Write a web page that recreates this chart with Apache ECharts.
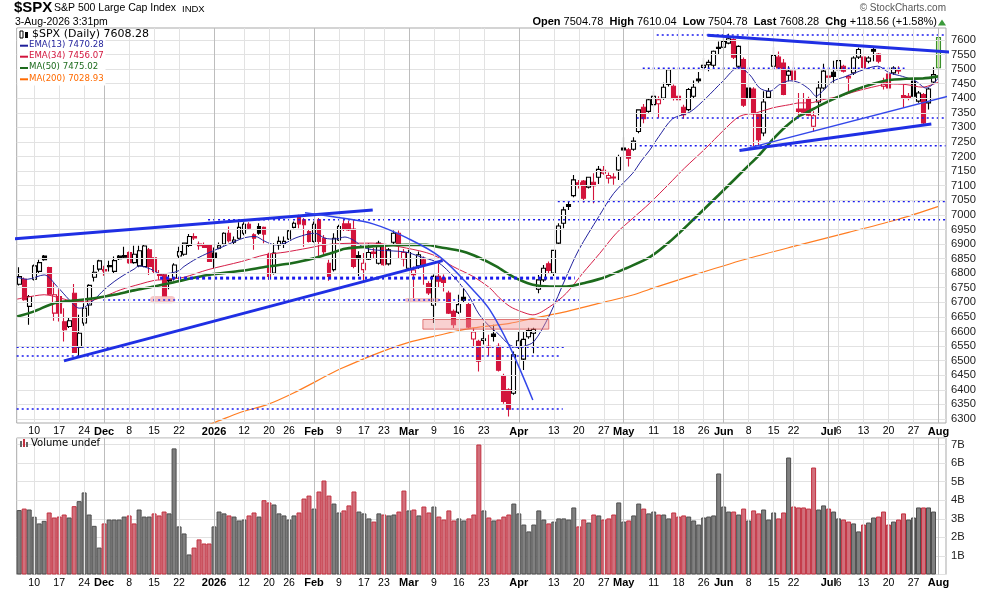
<!DOCTYPE html>
<html><head><meta charset="utf-8">
<script src="https://cdn.jsdelivr.net/npm/echarts@6/dist/echarts.min.js"></script>
<style>html,body{margin:0;padding:0;background:#fff}#c{width:990px;height:591px}</style>
</head><body><div id="c"></div><script>
// ---------------- DATA ----------------
const tradingDays = {
 '2025-11': [5,6,7,10,11,12,13,14,17,18,19,20,21,24,25,26,28],
 '2025-12': [1,2,3,4,5,8,9,10,11,12,15,16,17,18,19,22,23,24,26,29,30,31],
 '2026-01': [2,5,6,7,8,9,12,13,14,15,16,20,21,22,23,26,27,28,29,30],
 '2026-02': [2,3,4,5,6,9,10,11,12,13,17,18,19,20,23,24,25,26,27],
 '2026-03': [2,3,4,5,6,9,10,11,12,13,16,17,18,19,20,23,24,25,26,27,30,31],
 '2026-04': [1,2,6,7,8,9,10,13,14,15,16,17,20,21,22,23,24,27,28,29,30],
 '2026-05': [1,4,5,6,7,8,11,12,13,14,15,18,19,20,21,22,26,27,28,29],
 '2026-06': [1,2,3,4,5,8,9,10,11,12,15,16,17,18,22,23,24,25,26,29,30],
 '2026-07': [1,2,6,7,8,9,10,13,14,15,16,17,20,21,22,23,24,27,28,29,30,31],
 '2026-08': [3]
};
const openP = [
6762,6779,6686,6779,6806,6859,6819,6663,6720,6633,
6617,6731,6546,6629,6691,6786,6814,6812,6822,6806,
6859,6860,6871,6836,6825,6823,6880,6853,6796,6794,
6780,6783,6859,6865,6895,6926,6900,6897,6895,6869,
6886,6900,6937,6906,6920,6937,6968,6932,6960,6957,
6865,6800,6897,6900,6917,6957,6991,6983,6943,6909,
6983,6920,6834,6812,6914,6969,6969,6951,6860,6812,
6848,6872,6834,6892,6832,6906,6937,6849,6817,6795,
6825,6846,6764,6690,6789,6783,6732,6669,6666,6717,
6692,6574,6566,6569,6549,6591,6549,6448,6400,6388,
6548,6505,6582,6594,6745,6777,6832,6800,6903,6971,
7035,7066,7110,7116,7095,7112,7129,7143,7126,7130,
7154,7229,7223,7225,7286,7369,7355,7378,7381,7401,
7447,7441,7407,7369,7361,7407,7466,7506,7515,7513,
7575,7575,7589,7601,7510,7533,7435,7432,7346,7281,
7403,7510,7541,7521,7479,7493,7363,7363,7399,7304,
7387,7435,7476,7489,7498,7510,7470,7487,7541,7541,
7527,7567,7552,7441,7483,7487,7494,7409,7407,7458,
7390,7413,7384,7456,7504.78];
const highP = [
6820,6785,6725,6830,6846,6862,6822,6766,6745,6680,
6650,6763,6657,6697,6762,6828,6846,6825,6843,6857,
6862,6891,6874,6894,6894,6897,6886,6855,6811,6800,
6794,6834,6891,6905,6934,6937,6909,6905,6897,6888,
6905,6940,6960,6926,6975,6975,6975,6937,6971,6960,
6870,6903,6926,6926,6950,6977,7000,6989,6949,6977,
6989,6931,6846,6937,6966,6983,6980,6983,6875,6869,
6903,6886,6911,6900,6886,6946,6946,6883,6880,6823,
6874,6857,6772,6795,6834,6795,6740,6675,6726,6747,
6700,6612,6572,6629,6589,6623,6560,6455,6405,6531,
6600,6600,6613,6613,6794,6828,6840,6880,6971,7028,
7045,7137,7120,7120,7131,7143,7168,7168,7145,7143,
7206,7266,7229,7266,7362,7380,7400,7424,7407,7453,
7504,7447,7413,7378,7435,7461,7490,7538,7532,7564,
7595,7607,7621,7606,7582,7540,7447,7438,7350,7424,
7435,7575,7560,7535,7510,7527,7418,7418,7405,7355,
7458,7518,7493,7529,7541,7515,7481,7544,7573,7544,
7544,7573,7555,7470,7490,7510,7510,7447,7418,7470,
7425,7418,7435,7506,7610.04];
const lowP = [
6758,6705,6623,6775,6800,6843,6725,6637,6634,6566,
6612,6526,6514,6620,6654,6771,6806,6791,6806,6800,
6845,6850,6832,6832,6820,6820,6794,6800,6777,6720,
6745,6775,6851,6860,6890,6914,6880,6886,6838,6817,
6882,6895,6905,6897,6916,6930,6950,6880,6932,6903,
6777,6795,6880,6886,6914,6954,6954,6891,6905,6905,
6857,6863,6774,6806,6910,6945,6945,6817,6790,6766,
6845,6851,6830,6825,6826,6900,6852,6823,6810,6715,
6815,6760,6725,6629,6749,6737,6660,6612,6660,6700,
6610,6549,6463,6555,6515,6566,6463,6352,6308,6383,
6540,6468,6575,6525,6731,6770,6800,6790,6897,6954,
7017,7060,7090,7042,7090,7040,7106,7138,7108,7103,
7120,7218,7166,7220,7280,7314,7350,7370,7333,7395,
7440,7392,7390,7330,7355,7400,7453,7493,7493,7505,
7552,7570,7585,7535,7505,7370,7395,7235,7237,7270,
7398,7505,7500,7410,7458,7455,7342,7342,7338,7285,
7342,7430,7424,7453,7490,7488,7418,7480,7535,7500,
7520,7527,7520,7430,7425,7481,7483,7367,7393,7400,
7385,7312,7361,7450,7504.78];
const closeP = [
6788,6709,6720,6825,6836,6846,6728,6726,6663,6606,
6637,6528,6594,6680,6758,6803,6842,6808,6826,6843,
6850,6855,6836,6865,6877,6893,6823,6806,6792,6722,
6773,6828,6874,6903,6926,6921,6894,6888,6840,6852,
6894,6937,6911,6914,6957,6968,6954,6920,6937,6934,
6789,6869,6909,6909,6945,6971,6969,6966,6909,6968,
6909,6874,6789,6920,6960,6951,6948,6823,6850,6834,
6871,6868,6903,6829,6880,6937,6900,6871,6871,6811,
6863,6829,6732,6789,6772,6768,6663,6623,6692,6707,
6615,6598,6498,6575,6546,6583,6467,6360,6333,6520,
6568,6573,6603,6607,6777,6817,6809,6878,6962,7017,
7029,7120,7103,7057,7129,7100,7156,7153,7135,7127,
7200,7223,7194,7253,7360,7330,7395,7407,7395,7438,
7498,7399,7395,7344,7430,7438,7460,7513,7523,7561,
7571,7595,7604,7541,7578,7376,7401,7346,7258,7387,
7424,7547,7504,7413,7493,7464,7355,7352,7342,7340,
7435,7493,7472,7475,7529,7493,7475,7538,7567,7506,
7538,7561,7527,7453,7435,7504,7497,7401,7399,7407,
7418,7315,7432,7481,7608.28];
// volume in billions (last session not shown)
const volumeB = [
3.47,3.55,3.50,3.11,2.75,2.89,3.34,3.07,3.12,3.23,
3.07,3.68,3.95,4.42,3.23,2.62,1.45,2.75,2.96,2.96,
2.96,3.12,3.18,2.75,3.50,3.12,3.12,3.29,3.18,3.39,
3.29,6.79,2.59,2.21,1.08,1.45,1.89,1.67,1.67,2.59,
3.39,3.29,3.18,3.12,2.91,2.96,3.18,3.34,3.12,4.00,
3.88,3.77,3.29,3.18,2.96,3.18,3.34,4.09,4.25,3.55,
4.47,5.06,4.25,3.82,3.34,3.45,3.72,4.47,3.39,3.29,
3.02,2.85,3.29,3.23,3.18,3.23,3.39,4.52,3.45,3.50,
3.18,3.66,3.34,3.66,3.12,2.96,3.45,2.91,3.02,2.91,
3.02,3.23,7.00,3.45,3.07,2.91,2.96,3.12,3.23,3.82,
3.29,2.69,2.32,2.69,3.45,2.96,2.75,2.85,3.02,3.02,
2.96,3.61,2.59,2.96,2.80,3.23,3.18,2.96,3.02,3.23,
3.88,2.85,2.91,3.18,3.82,3.55,3.29,3.39,3.23,3.23,
3.02,3.34,3.12,3.18,3.12,2.91,2.69,3.07,3.12,3.18,
5.44,3.66,3.39,3.39,3.23,3.55,2.91,3.45,3.29,3.50,
2.96,3.34,3.02,3.34,6.30,3.66,3.61,3.61,3.55,5.76,
3.50,3.72,3.55,3.39,3.02,2.96,2.85,2.75,2.32,2.69,
2.80,3.07,3.12,3.39,2.69,2.85,2.96,3.29,2.96,3.07,
3.61,3.61,3.61,3.39,null];
// 1 = down day (close below previous close) as coloured in the volume pane
const volumeDown =
 "0100001111"+"0100000100"+"0011000111"+"0000011110"+"0010001101"+
 "1000001110"+"1110011100"+"0101001101"+"0110111100"+"1110101110"+
 "0000001000"+"0011010111"+"0010010010"+"0111000000"+"0001010110"+
 "0011011111"+"0010011001"+"0011101100"+"01000";
// indicator lines: [session index, value]
const ema13 = [[-0.4,6786],[1.6,6779],[5,6794],[7.6,6754],[10,6709],[12,6680],[13,6683],[15,6709],[17,6743],[19,6771],[21,6794],[23,6814],[24,6825],[26.3,6814],[28.3,6798],[30.3,6800],[32,6809],[33,6823],[35.5,6850],[37.8,6869],[40,6885],[43.2,6909],[45.2,6922],[47.2,6926],[49.2,6909],[51.2,6897],[53.2,6903],[55.2,6920],[57.8,6934],[59.2,6937],[61.2,6920],[63.2,6917],[65.2,6924],[67,6912],[69,6888],[71,6880],[74,6877],[77.5,6872],[80,6858],[82,6848],[84,6835],[86,6805],[88,6768],[90,6722],[92,6660],[94,6620],[96,6590],[98,6556],[99.5,6546],[101,6549],[103,6565],[106,6651],[109.5,6788],[112,6880],[116,6994],[119,7074],[122.8,7143],[124.5,7185],[126.2,7222],[128,7268],[130.8,7330],[134.2,7352],[137.5,7401],[140.8,7458],[144,7506],[146.2,7481],[148.2,7435],[150.2,7424],[152.2,7447],[154.2,7460],[156.2,7453],[158.2,7430],[159.5,7407],[160.8,7424],[162.8,7458],[165.5,7475],[168.2,7493],[171.8,7510],[174.2,7487],[176.8,7475],[179.5,7458],[181.5,7435],[182.8,7447],[184,7470]];
const ema34 = [[-0.4,6711],[3,6722],[5,6726],[9,6711],[11,6703],[13.3,6703],[17,6720],[20.3,6743],[24.3,6763],[27,6775],[30,6779],[33,6786],[37.8,6812],[44.5,6840],[49.2,6863],[53.2,6872],[57.8,6886],[61.2,6897],[65.2,6902],[70.8,6903],[77.5,6886],[82.8,6863],[86.8,6823],[90.8,6789],[94.2,6749],[96,6717],[98.2,6686],[100.5,6668],[102.8,6657],[106.2,6685],[109.5,6731],[112.8,6800],[116.2,6868],[119.5,6937],[122.8,6988],[126.2,7040],[130,7105],[133.2,7161],[137.5,7230],[140.8,7287],[144.2,7338],[147.5,7350],[150.8,7367],[154.2,7378],[156.2,7384],[158.2,7384],[160.8,7395],[164.2,7407],[167.5,7424],[171.5,7441],[174.2,7449],[177.5,7447],[180.8,7438],[182.8,7447],[184,7456]];
const ma50 = [[-0.4,6651],[3,6669],[7,6697],[11,6706],[15,6714],[19,6726],[23,6741],[27,6754],[30.3,6766],[33,6777],[37.8,6794],[44.5,6808],[49.8,6823],[54.5,6834],[59.2,6852],[62.5,6869],[65.2,6884],[70.8,6892],[77.5,6897],[81.5,6897],[84.2,6889],[88.8,6874],[92.2,6852],[95.5,6823],[98.2,6794],[99.5,6782],[102.8,6760],[106.2,6754],[109.5,6754],[113.5,6768],[117.5,6788],[121.5,6817],[126.2,6855],[130,6905],[135,6985],[140,7068],[145.5,7161],[148.2,7207],[150.8,7258],[153.5,7304],[156.2,7340],[157.5,7350],[160.8,7380],[164.2,7407],[167.5,7430],[170.8,7449],[173.5,7461],[177.5,7467],[180.8,7468],[184,7475]];
const ma200 = [[37,6276],[39,6287],[44.2,6322],[49.5,6348],[54.8,6388],[62.2,6454],[64.2,6471],[70.8,6519],[77.5,6560],[84.2,6588],[90.8,6612],[98.2,6628],[102.8,6645],[109.5,6668],[116.2,6697],[122.8,6725],[126.2,6745],[136.2,6800],[146.2,6852],[156.2,6897],[166,6940],[176,6985],[184,7029]];
// tick labels
const priceTicks = [6300,6350,6400,6450,6500,6550,6600,6650,6700,6750,6800,6850,6900,6950,7000,7050,7100,7150,7200,7250,7300,7350,7400,7450,7500,7550,7600];
const xTicks = [['2025-11-10','10'],['2025-11-17','17'],['2025-11-24','24'],['2025-12-01','Dec'],['2025-12-08','8'],['2025-12-15','15'],['2025-12-22','22'],['2026-01-02','2026'],['2026-01-12','12'],['2026-01-20','20'],['2026-01-26','26'],['2026-02-02','Feb'],['2026-02-09','9'],['2026-02-17','17'],['2026-02-23','23'],['2026-03-02','Mar'],['2026-03-09','9'],['2026-03-16','16'],['2026-03-23','23'],['2026-04-01','Apr'],['2026-04-13','13'],['2026-04-20','20'],['2026-04-27','27'],['2026-05-01','May'],['2026-05-11','11'],['2026-05-18','18'],['2026-05-26','26'],['2026-06-01','Jun'],['2026-06-08','8'],['2026-06-15','15'],['2026-06-22','22'],['2026-07-01','Jul'],['2026-07-06','6'],['2026-07-13','13'],['2026-07-20','20'],['2026-07-27','27'],['2026-08-03','Aug']];
// annotations, in data units [session index, price]
const levelLines = [[127.6,185.2,7617,0],[124.8,177.2,7503,0],[123.6,185.4,7332,0],[124.2,185.4,7237,0],[107.8,185.4,7046,0],[37.8,185.4,6983,0],[28.2,111.2,6783,1],[16.8,112.2,6708,0],[-0.5,109.2,6546,0],[-0.5,108.2,6516,0],[-0.5,108.8,6334,0]];
const trendLines = [
 [[-3.84,6914],[70.76,7017]],
 [[8.96,6499],[84.76,6843]],
 [[137.76,7616],[186.16,7559]],
 [[144.16,7221],[182.56,7312]]
];
const thinTrendLines = [
 [[144.56,7223],[186.16,7408]],
 [[57.2,7007],[64.2,6990],[70.8,6969],[77.6,6921],[84.2,6856],[90.8,6743],[94.2,6674],[98.2,6547],[102.8,6365]]
];
const zones = [[26.2,31.2,6697,6722,1],[77.2,84.2,6701,6715,1],[80.8,106.0,6608,6641,0]];

// ---------------- BUILD ----------------
const categories = [];
Object.keys(tradingDays).forEach(ym => tradingDays[ym].forEach(d => categories.push(ym + '-' + String(d).padStart(2,'0'))));
categories.push('');
const N = categories.length;
const tickMap = {};
xTicks.forEach(([d,l]) => { tickMap[categories.indexOf(d)] = l; });
const tickIdx = Object.keys(tickMap).map(Number);
const isMonth = l => !/^\d{1,2}$/.test(l);

const SANS = "'Liberation Sans', Arial, sans-serif";
const RED = '#d3143c';
const GL = 16.7, GR = 44;

const last = openP.length - 1;
const candleData = openP.map((o,i) => {
  const c = closeP[i];
  const prev = i > 0 ? closeP[i-1] : c;
  const col = c < prev ? RED : '#000';
  let s;
  if (i === last) s = {color:'#c8f2a0', color0:'#c8f2a0', borderColor:'#3b8f2b', borderColor0:'#3b8f2b'};
  else if (c >= o) s = {color:'#fff', color0:'#fff', borderColor:col, borderColor0:col};
  else s = {color:col, color0:col, borderColor:col, borderColor0:col};
  return {value:[o, c, lowP[i], highP[i]], itemStyle:s};
});
const volData = volumeB.map((v,i) => ({
  value: v,
  itemStyle: volumeDown[i] === '1'
    ? {color:'#d1707c', borderColor:'#c2303f', borderWidth:1}
    : {color:'#808080', borderColor:'#4d4d4d', borderWidth:1}
}));

const xLabel = {
  interval: (i) => tickMap[i] !== undefined,
  formatter: (v, i) => { const l = tickMap[i]; if (l === undefined) return ''; return isMonth(l) ? '{b|' + l + '}' : l; },
  margin: 3, fontSize: 10.5, color: '#000', fontFamily: SANS,
  rich: { b: { fontWeight: 'bold', fontSize: 11, color: '#000', fontFamily: SANS } }
};

const vLines = tickIdx.map(i => ({ xAxis: i, lineStyle: { color: isMonth(tickMap[i]) ? '#bdbdbd' : '#e2e2e2', width: 1, type: 'solid' } }));

const lineSeries = (data, color, width, z, extra) => Object.assign({
  type:'line', xAxisIndex:1, yAxisIndex:0, data, showSymbol:false, symbol:'none', silent:true,
  lineStyle:{color, width}, z, animation:false
}, extra || {});

const series = [];
series.push({
  type:'line', xAxisIndex:1, yAxisIndex:0, data:[], z:1, silent:true,
  markLine:{ silent:true, symbol:['none','none'], animation:false,
    label:{show:true, position:'end', distance:5, color:'#222', fontSize:11.2, fontFamily:SANS, formatter:(p)=>String(p.value)},
    lineStyle:{color:'#e2e2e2', width:1, type:'solid'},
    data: priceTicks.map(p => ({yAxis:p})) }
});
series.push({
  type:'line', xAxisIndex:1, yAxisIndex:0, data:[], z:1, silent:true,
  markLine:{ silent:true, symbol:['none','none'], animation:false, label:{show:false}, data: vLines }
});
series.push({
  type:'line', xAxisIndex:3, yAxisIndex:1, data:[], z:1, silent:true,
  markLine:{ silent:true, symbol:['none','none'], animation:false, label:{show:false}, data: vLines }
});
series.push(lineSeries(ma200, '#ff7d22', 1.2, 3, {smooth:0.3}));
series.push(lineSeries(ema34, '#d61f48', 1, 3, {smooth:0.3}));
series.push(lineSeries(ema13, '#23239e', 1, 3, {smooth:0.3}));
series.push({
  type:'candlestick', xAxisIndex:0, yAxisIndex:0, data:candleData, barWidth:4.4, z:2, silent:true, animation:false,
  itemStyle:{borderWidth:1.1}
});
series.push(lineSeries(ma50, '#1d6b1d', 2.6, 3, {smooth:0.3}));
series.push({
  type:'bar', xAxisIndex:2, yAxisIndex:1, data:volData, barCategoryGap:'0%', z:2, silent:true, animation:false
});
levelLines.forEach(([a,b,p,bold]) => {
  series.push(lineSeries([[a,p],[b,p]], '#1a1aee', bold ? 3 : 1.5, 4, {lineStyle:{color:'#1a1aee', width: bold ? 3 : 1.5, type: bold ? [3,3] : [2,3]}}));
});
trendLines.forEach(pts => series.push(lineSeries(pts, '#1f2fe4', 3, 5, {clip:false})));
thinTrendLines.forEach(pts => series.push(lineSeries(pts, '#3347ea', 1.5, 5, {clip:false, smooth:0.35})));
series.push({
  type:'custom', xAxisIndex:1, yAxisIndex:0, z:4, silent:true, animation:false,
  encode:{x:[0,1], y:[2,3]},
  data: zones,
  renderItem: (params, api) => {
    const a = api.coord([api.value(0), api.value(3)]);
    const b = api.coord([api.value(1), api.value(2)]);
    const w = b[0]-a[0], h = b[1]-a[1];
    const pill = api.value(4) === 1;
    return { type:'rect', shape:{x:a[0], y:a[1], width:w, height:h, r: pill ? h/2 : 0},
      style: pill ? {fill:'rgba(238,130,130,0.45)'} : {fill:'rgba(242,150,150,0.45)', stroke:'rgba(215,80,80,0.75)', lineWidth:1} };
  }
});

const ohlcText = '{b|Open} 7504.78  {b|High} 7610.04  {b|Low} 7504.78  {b|Last} 7608.28  {b|Chg} +118.56 (+1.58%)';
const legendRows = [['EMA(13) 7470.28','#1f1f9a'],['EMA(34) 7456.07','#d2143c'],['MA(50) 7475.02','#1d6b1d'],['MA(200) 7028.93','#ff6a00']];
const legendY = [45.7, 56.7, 68, 79.3];
const graphics = [
  {type:'text', left:14, top:0, style:{text:'$SPX', font:"bold 15px 'Liberation Sans', Arial", fill:'#000'}},
  {type:'text', left:54, top:3, style:{text:'S&P 500 Large Cap Index', font:"10.5px 'Liberation Sans', Arial", fill:'#000'}},
  {type:'text', left:182, top:4.5, style:{text:'INDX', font:"9.5px 'Liberation Sans', Arial", fill:'#000'}},
  {type:'text', left:15, top:17, style:{text:'3-Aug-2026 3:31pm', font:"10.5px 'Liberation Sans', Arial", fill:'#000'}},
  {type:'text', right:44, top:3, style:{text:'\u00a9 StockCharts.com', font:"10px 'Liberation Sans', Arial", fill:'#555'}},
  {type:'text', right:53, top:16.5, style:{text:ohlcText, font:"11px 'Liberation Sans', Arial", fill:'#000', rich:{b:{fontWeight:'bold', fontSize:11, fontFamily:SANS, fill:'#000'}}}},
  {type:'polygon', shape:{points:[[938,25.5],[946,25.5],[942,19.5]]}, style:{fill:'#3a9a3a'}},
  {type:'rect', shape:{x:17.5, y:28.5, width:88, height:57}, style:{fill:'#fff'}, z:50},
  {type:'rect', shape:{x:20, y:31, width:3, height:7}, style:{fill:'#fff', stroke:'#000', lineWidth:1}, z:51},
  {type:'rect', shape:{x:25, y:32, width:3, height:6}, style:{fill:'#000'}, z:51},
  {type:'text', left:32, top:29, style:{text:'$SPX (Daily) 7608.28', font:"11px 'DejaVu Sans', Verdana", fill:'#000'}, z:51}
];
legendRows.forEach(([t,c],k) => {
  const y = legendY[k];
  graphics.push({type:'line', shape:{x1:20, y1:y, x2:28, y2:y}, style:{stroke:c, lineWidth:2}, z:51});
  graphics.push({type:'text', left:29, top:y-5.5, style:{text:t, font:"8.6px 'DejaVu Sans', Verdana", fill:c}, z:51});
});
graphics.push({type:'rect', shape:{x:20, y:441, width:2, height:6}, style:{fill:'#666'}, z:51});
graphics.push({type:'rect', shape:{x:23, y:439, width:2, height:8}, style:{fill:'#c2303f'}, z:51});
graphics.push({type:'rect', shape:{x:26, y:442, width:2, height:5}, style:{fill:'#666'}, z:51});
graphics.push({type:'text', left:31, top:438, style:{text:'Volume undef', font:"10px 'DejaVu Sans', Verdana", fill:'#000'}, z:51});

const chart = echarts.init(document.getElementById('c'), null, {renderer:'canvas'});
chart.setOption({
  animation:false,
  backgroundColor:'#fff',
  grid:[
    {left:GL, right:GR, top:28, height:395, show:true, borderColor:'#a9a9a9', borderWidth:1, backgroundColor:'transparent'},
    {left:GL, right:GR, top:438, height:136.5, show:true, borderColor:'#a9a9a9', borderWidth:1, backgroundColor:'transparent'}
  ],
  xAxis:[
    {type:'category', gridIndex:0, data:categories, boundaryGap:true, axisLine:{show:false}, axisTick:{show:false}, splitLine:{show:false}, axisLabel:xLabel},
    {type:'value', gridIndex:0, min:-0.5, max:N-0.5, show:false, splitLine:{show:false}},
    {type:'category', gridIndex:1, data:categories, boundaryGap:true, axisLine:{show:false}, axisTick:{show:false}, splitLine:{show:false}, axisLabel:xLabel},
    {type:'value', gridIndex:1, min:-0.5, max:N-0.5, show:false, splitLine:{show:false}}
  ],
  yAxis:[
    {type:'value', gridIndex:0, min:6286, max:7641, position:'right', axisLine:{show:false}, axisTick:{show:false}, axisLabel:{show:false}, splitLine:{show:false}},
    {type:'value', gridIndex:1, min:0, max:7.35, interval:1, position:'right', axisLine:{show:false}, axisTick:{show:false},
     axisLabel:{showMinLabel:false, showMaxLabel:false, formatter:(v)=> (v>0 && v<=7) ? v + 'B' : '', margin:5, fontSize:11.2, color:'#222', fontFamily:SANS},
     splitLine:{lineStyle:{color:'#e2e2e2', width:1}}}
  ],
  graphic:{elements:graphics},
  series
});
</script></body></html>
